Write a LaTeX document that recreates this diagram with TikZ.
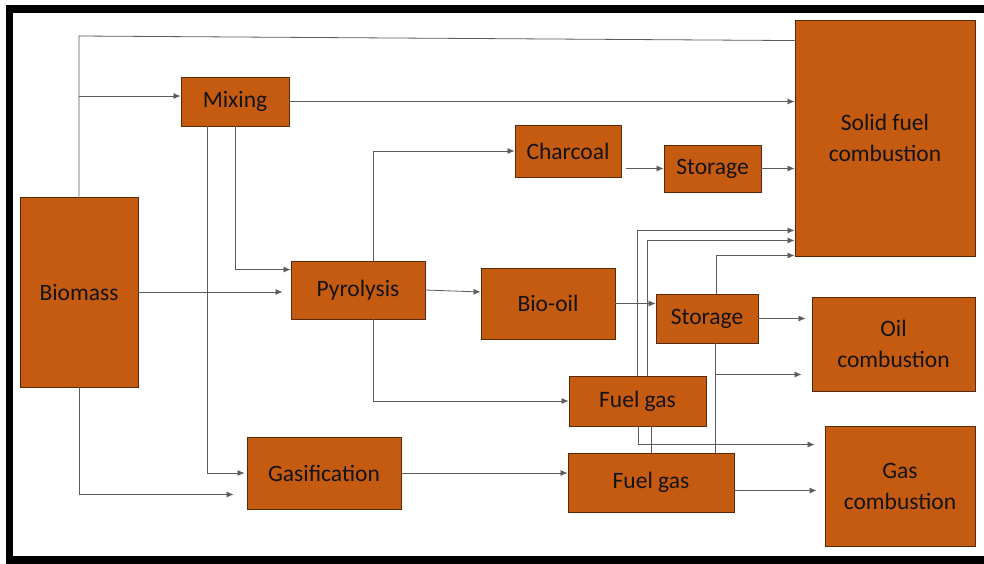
\documentclass[tikz,border=0pt]{standalone}
\usepackage{fontspec}
\setmainfont{Carlito}
\usetikzlibrary{arrows.meta,calc}
\definecolor{boxfill}{HTML}{C55A11}
\definecolor{boxedge}{HTML}{5A2A08}
\definecolor{wire}{HTML}{5C5C5C}
\begin{document}
\begin{tikzpicture}[x=1pt,y=-1pt,
  proc/.style={draw=boxedge,line width=0.9pt,fill=boxfill,inner sep=0pt,
    align=center,text=black!92,font=\fontsize{23.5}{31}\selectfont},
  link/.style={draw=wire,line width=0.8pt},
  flow/.style={link,-{Latex[length=7pt,width=6pt]}},
]
\useasboundingbox (0,0) rectangle (984,563);
\clip (0,0) rectangle (984,563);
\fill[white] (0,0) rectangle (984,563);
% outer frame
\draw[line width=7.5pt] (9.5,9) rectangle (1000,560);

% process boxes
\node[proc,minimum width=118pt,minimum height=190pt] (bio)  at (79,292)    {Biomass};
\node[proc,minimum width=108pt,minimum height=49pt]  (mix)  at (235,101.5) {Mixing};
\node[proc,minimum width=134pt,minimum height=58pt]  (pyr)  at (358,290)   {Pyrolysis};
\node[proc,minimum width=154pt,minimum height=72pt]  (gas)  at (324,473)   {Gasification};
\node[proc,minimum width=106pt,minimum height=52pt]  (char) at (568,151)   {Charcoal};
\node[proc,minimum width=97pt,minimum height=47pt]   (sto1) at (712.5,168.5) {Storage};
\node[proc,minimum width=180pt,minimum height=236pt] (sfc)  at (885,138)   {Solid fuel\\combustion};
\node[proc,minimum width=134pt,minimum height=71pt]  (oil)  at (548,303.5) {Bio-oil};
\node[proc,minimum width=102pt,minimum height=49pt]  (sto2) at (707,318.5) {Storage};
\node[proc,minimum width=163pt,minimum height=94pt]  (oc)   at (893.5,344) {Oil\\combustion};
\node[proc,minimum width=137pt,minimum height=50pt]  (fg1)  at (637.5,401) {Fuel gas};
\node[proc,minimum width=166pt,minimum height=59pt]  (fg2)  at (651,482.5) {Fuel gas};
\node[proc,minimum width=150pt,minimum height=120pt] (gc)   at (900,486)   {Gas\\combustion};

% helper points
\coordinate (topbend) at (79,36);
\coordinate (topend)  at ($(sfc.north west)+(0,21)$);
\coordinate (mixtap)  at (79,96);
\coordinate (s2b)     at ($(sto2.south)+(8,0)$);
\coordinate (s2j)     at ($(s2b)+(0,31)$);
\coordinate (fgdown)  at ($(fg1.south)+(1,0)$);
\coordinate (fgup)    at ($(fg1.north)+(10,0)$);
\coordinate (fgpass)  at ($(fg1.south)+(13.5,0)$);

% biomass routes
\draw[link] (bio.north) -- (topbend) -- (topend);
\draw[flow] (mixtap) -- (mixtap -| mix.west);
\draw[flow,shorten >=8pt] (bio.east) -- (bio.east -| pyr.west);
\draw[flow,shorten >=13pt] (bio.south) |- ($(gas.south west)+(0,-15)$);

% mixing routes
\draw[flow] (mix.east) -- (mix.east -| sfc.west);
\draw[flow,shorten >=2pt] ($(mix.south west)+(27,0)$) |- (gas.west);
\draw[flow] (mix.south) |- ($(pyr.north west)+(0,9)$);

% pyrolysis routes
\draw[flow] ($(pyr.north)+(15,0)$) |- (char.west);
\draw[flow] (pyr.east) -- ($(pyr.east -| oil.west)+(0,2)$);
\draw[flow] ($(pyr.south)+(15,0)$) |- (fg1.west);

% gasification route
\draw[flow] (gas.east) -- (gas.east -| fg2.west);

% charcoal chain
\draw[flow] ($(sto1.west -| char.east)+(5,0)$) -- (sto1.west);
\draw[flow] (sto1.east) -- (sto1.east -| sfc.west);

% bio-oil chain
\draw[flow] (oil.east) -- (oil.east -| sto2.west);
\draw[flow,shorten >=6pt] (sto2.east) -- (sto2.east -| oc.west);
\draw[flow] ($(sto2.north)+(9,0)$) |- ($(sfc.south west)+(0,-1)$);
\draw[link] (s2b) -- (s2b |- fg2.north);
\draw[flow,shorten >=10pt] (s2j) -- (s2j -| oc.west);

% fuel gas routes
\draw[flow] (fg1.north) |- ($(sfc.south west)+(0,-26)$);
\draw[flow] (fgup) |- ($(sfc.south west)+(0,-16)$);
\draw[flow,shorten >=10pt] (fgdown) |- ($(gc.north west)+(0,19)$);
\draw[link] (fgpass) -- (fgpass |- fg2.north);
\draw[flow,shorten >=8pt] ($(fg2.east)+(0,8)$) -- ($(fg2.east -| gc.west)+(0,8)$);
\end{tikzpicture}
\end{document}
